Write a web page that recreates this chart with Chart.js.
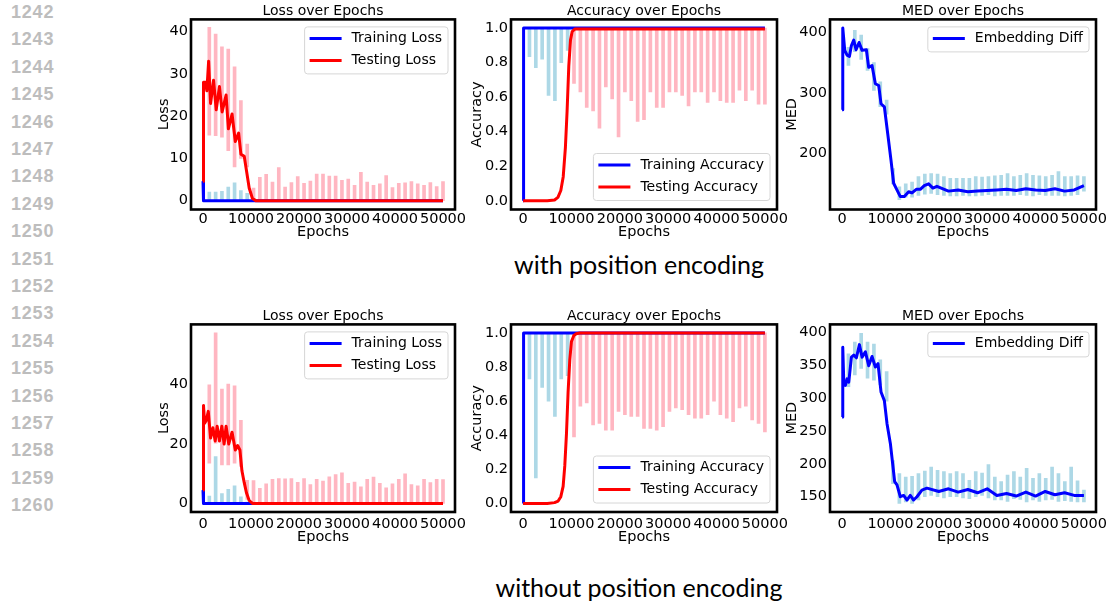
<!DOCTYPE html>
<html>
<head>
<meta charset="utf-8">
<title>Loss, Accuracy and MED over Epochs</title>
<script src="https://cdn.jsdelivr.net/npm/chart.js@4.4.1/dist/chart.umd.min.js"></script>
<style>
  body { margin: 0; width: 1108px; height: 606px; overflow: hidden; background: #fff; position: relative; }
  canvas { position: absolute; }
  .ln { position: absolute; left: 11px; font: bold 18px "Liberation Sans", Arial, sans-serif; line-height: 20px; color: #bdbdbd; letter-spacing: 0.8px; }
  .cap { position: absolute; left: 439px; width: 400px; text-align: center; font: 25px Lato, sans-serif; line-height: 28px; color: #000; }
</style>
</head>
<body>
<div id="nums"></div>
<canvas id="lossA"></canvas>
<canvas id="accA"></canvas>
<canvas id="medA"></canvas>
<canvas id="lossB"></canvas>
<canvas id="accB"></canvas>
<canvas id="medB"></canvas>
<div class="cap" style="top:250px">with position encoding</div>
<div class="cap" style="top:573px">without position encoding</div>
<script>
// Ticks shared by every panel
const xTicks = [0, 10000, 20000, 30000, 40000, 50000];
const lossTicksA = [0, 10, 20, 30, 40];
const lossTicksB = [0, 20, 40];
const accTicks = [0, 0.2, 0.4, 0.6, 0.8, 1.0];
const medTicksA = [200, 300, 400];
const medTicksB = [150, 200, 250, 300, 350, 400];

// Epochs where the raw curves spike (evaluation points)
const spikeEpochs = [1316, 2632, 3947, 5263, 6579, 7895, 9211, 10526, 11842, 13158, 14474, 15789, 17105,
  18421, 19737, 21053, 22368, 23684, 25000, 26316, 27632, 28947, 30263, 31579, 32895, 34211, 35526,
  36842, 38158, 39474, 40789, 42105, 43421, 44737, 46053, 47368, 48684, 50000];
const earlySpikes = spikeEpochs.slice(0, 7);
const lateSpikes = spikeEpochs.slice(7);

// ---- with position encoding ----
const trainLossEpA = [0, 100, 50000];
const trainLossA = [4.6, 0, 0];
const testLossEpA = [0, 100, 500, 800, 1170, 1580, 2200, 2750, 3430, 3980, 4810, 5290, 6050, 6730, 7420, 7900, 8590, 9070, 9620, 10300, 11000, 50000];
const testLossA = [4.6, 28, 28, 26, 33, 23, 28.5, 21.5, 27, 21, 25, 17, 20.5, 14, 16, 11, 10.5, 7, 3, 0.5, 0, 0];
const trainLossSpikeA = [2.0, 2.0, 2.2, 3.2, 4.2, 2.4, 1.7];
const testLossEarlyLoA = [15.5, 15.4, 15, 11.8, 8, 10, 8];
const testLossEarlyHiA = [41, 39.4, 36.4, 35.9, 31.7, 23.7, 13.4];
const testLossLateA = [3.0, 5.5, 6.2, 4.4, 7.8, 3.2, 4.3, 5.7, 4.1, 4.6, 6.3, 6.3, 5.8, 5.8, 4.8, 5.1, 3.6, 6.7, 4.4, 3.6, 4.0, 5.9, 3.1, 4.1, 4.2, 4.5, 4.0, 3.6, 4.3, 3.3, 4.5];

const trainAccEp = [0, 100, 50000];
const trainAcc = [0, 1, 1];
const testAccEpA = [0, 5000, 6500, 7200, 7800, 8300, 8750, 9100, 9450, 9800, 10150, 10700, 11400, 50000];
const testAccA = [0, 0, 0.005, 0.02, 0.06, 0.14, 0.31, 0.52, 0.78, 0.93, 0.98, 0.994, 0.995, 0.995];
const trainAccSpikeA = [0.835, 0.77, 0.82, 0.61, 0.58, 0.80, 0.87];
const testAccSpikeA = [0.68, 0.63, 0.54, 0.52, 0.42, 0.66, 0.59, 0.37, 0.63, 0.58, 0.46, 0.47, 0.63, 0.54, 0.54, 0.63, 0.63, 0.61, 0.55, 0.63, 0.63, 0.57, 0.63, 0.58, 0.57, 0.57, 0.64, 0.58, 0.64, 0.56, 0.56];

const medEpA = [0, 140, 550, 1030, 1510, 1930, 2410, 2890, 3510, 4130, 5020, 5500, 6190, 6880, 7570, 8050, 8740, 9430, 10110, 10660, 11210, 12040, 12870, 13760, 14450, 15340, 16170, 16990, 17890, 18780, 19610, 22000, 24000, 26000, 28000, 30000, 32000, 34000, 36000, 38000, 40000, 42000, 44000, 46000, 48000, 50000];
const medA = [272, 407, 370, 362, 360, 378, 387, 371, 383, 370, 371, 342, 345, 315, 312, 282, 277, 233, 189, 151, 142, 129, 129, 137, 135, 141, 141, 147, 150, 143, 146, 138, 140, 137, 138, 139, 140, 141, 139, 142, 140, 139, 142, 138, 140, 147];
const medSpikeLoA = [345, 368, 355, 337, 304, 277, 265, 150, 124, 128, 128, 131, 133, 134, 132, 131, 130, 130, 131, 130, 130, 131, 132, 130, 131, 131, 131, 132, 131, 130, 132, 131, 131, 131, 130, 131, 132, 138];
const medSpikeHiA = [375, 403, 395, 373, 350, 318, 288, 175, 145, 150, 153, 162, 166, 167, 166, 162, 159, 159, 159, 159, 162, 161, 162, 163, 164, 167, 162, 164, 167, 164, 163, 162, 164, 170, 162, 162, 163, 162];

// ---- without position encoding ----
const trainLossEpB = [0, 100, 50000];
const trainLossB = [4.5, 0, 0];
const testLossEpB = [0, 100, 340, 690, 1100, 1580, 2060, 2540, 2950, 3430, 3920, 4400, 4810, 5360, 6050, 6730, 7210, 7690, 8110, 8590, 9070, 9620, 10300, 11000, 50000];
const testLossB = [4.5, 33, 27, 28, 31, 22, 25.5, 21, 26, 21, 26, 20, 26, 20, 24, 18, 19.5, 18, 11, 7, 3.5, 1, 0, 0, 0];
const trainLossSpikeB = [2.5, 15.8, 3.3, 4.8, 5.9, 2.2, 0.5];
const testLossEarlyLoB = [13.6, 20.3, 13, 13, 13.6, 12.5, 1.4];
const testLossEarlyHiB = [39.9, 57.4, 38.5, 40.2, 39.6, 28, 7.8];
const testLossLateB = [7.7, 5.1, 6.6, 8.1, 8.4, 8.3, 8.4, 7.1, 8.4, 6.4, 8.1, 7.5, 9.0, 9.7, 10.3, 6.8, 7.2, 5.6, 8.1, 8.9, 6.8, 5.3, 6.6, 8.1, 10.0, 6.4, 5.9, 8.1, 7.0, 8.1, 8.0];

const testAccEpB = [0, 5000, 6500, 7250, 7800, 8280, 8620, 8970, 9300, 9650, 10000, 10500, 11000, 11700, 50000];
const testAccB = [0, 0, 0.005, 0.014, 0.04, 0.1, 0.22, 0.41, 0.65, 0.84, 0.95, 0.985, 0.995, 1.0, 1.0];
const trainAccSpikeB = [0.73, 0.15, 0.68, 0.60, 0.51, 0.73, 0.75];
const testAccSpikeB = [0.39, 0.57, 0.59, 0.46, 0.47, 0.43, 0.43, 0.54, 0.52, 0.51, 0.51, 0.44, 0.44, 0.43, 0.45, 0.54, 0.56, 0.55, 0.52, 0.50, 0.50, 0.52, 0.60, 0.52, 0.50, 0.48, 0.56, 0.57, 0.49, 0.47, 0.42];

const medEpB = [0, 140, 340, 690, 1030, 1380, 1930, 2410, 2960, 3580, 4130, 4820, 5500, 6190, 6880, 7430, 8050, 8740, 9290, 9980, 10460, 10870, 11350, 12040, 12730, 13420, 14100, 14790, 15480, 16510, 17540, 20000, 22000, 24000, 26000, 28000, 30000, 32000, 34000, 36000, 38000, 40000, 42000, 44000, 46000, 48000, 50000];
const medB = [271, 377, 327, 319, 329, 324, 362, 365, 361, 381, 362, 370, 349, 363, 347, 352, 309, 296, 261, 231, 200, 173, 168, 150, 152, 145, 152, 145, 150, 160, 163, 158, 162, 157, 161, 156, 162, 152, 155, 151, 157, 151, 158, 153, 156, 152, 152];
const medSpikeLoB = [317, 335, 345, 330, 327, 320, 295, 170, 140, 142, 140, 145, 150, 152, 150, 148, 150, 150, 148, 147, 150, 152, 148, 145, 145, 143, 147, 146, 142, 145, 143, 145, 146, 143, 144, 143, 142, 142];
const medSpikeHiB = [367, 385, 398, 385, 382, 358, 340, 205, 185, 180, 181, 185, 189, 195, 190, 188, 185, 188, 185, 175, 188, 186, 199, 180, 173, 183, 188, 180, 193, 178, 185, 178, 195, 185, 173, 195, 174, 160];

const BLUE = '#0000ff', RED = '#ff0000', LIGHTBLUE = '#add8e6', PINK = '#ffb6c1';

// Line numbers down the left margin
const nums = document.getElementById('nums');
for (let i = 0; i < 19; i++) {
  const d = document.createElement('div');
  d.className = 'ln';
  d.style.top = (2 + i * 27.4) + 'px';
  d.textContent = 1242 + i;
  nums.appendChild(d);
}

Chart.defaults.font.family = '"DejaVu Sans", sans-serif';
Chart.defaults.color = '#000';

// Black box round the plot area
const framePlugin = {
  id: 'frame',
  afterDatasetsDraw(chart) {
    const { ctx, chartArea: a } = chart;
    ctx.save();
    ctx.lineWidth = 2.6;
    ctx.strokeStyle = '#000';
    ctx.strokeRect(a.left, a.top, a.right - a.left, a.bottom - a.top);
    ctx.restore();
  }
};

// Legend drawn inside the plot area, like matplotlib's
const boxLegend = {
  id: 'boxLegend',
  afterDraw(chart, args, opts) {
    const { ctx, chartArea: a } = chart;
    const items = chart.data.datasets.filter(d => d.showInLegend);
    ctx.save();
    ctx.font = '14px "DejaVu Sans"';
    const tw = Math.max(...items.map(d => ctx.measureText(d.label).width));
    const w = 47 + tw + 6, h = 22 * items.length + 3;
    const x = a.right - 7 - w;
    const y = opts.corner === 'bottom' ? a.bottom - 9 - h : a.top + 7.5;
    ctx.fillStyle = 'rgba(255,255,255,0.8)';
    ctx.strokeStyle = '#d6d6d6';
    ctx.lineWidth = 1;
    ctx.beginPath();
    ctx.roundRect(x, y, w, h, 3);
    ctx.fill();
    ctx.stroke();
    items.forEach((d, i) => {
      const cy = y + 11.5 + 22 * i;
      ctx.strokeStyle = d.borderColor;
      ctx.lineWidth = 3;
      ctx.beginPath();
      ctx.moveTo(x + 5, cy);
      ctx.lineTo(x + 37, cy);
      ctx.stroke();
      ctx.fillStyle = '#000';
      ctx.textBaseline = 'middle';
      ctx.fillText(d.label, x + 47, cy);
    });
    ctx.restore();
  }
};

const line = (label, xs, ys, color, order) => ({
  type: 'line', label, data: xs.map((x, i) => ({ x, y: ys[i] })),
  borderColor: color, backgroundColor: color, borderWidth: 3, pointRadius: 0,
  tension: 0, fill: false, borderJoinStyle: 'round', order, showInLegend: true
});
const pick = (v, i) => Array.isArray(v) ? v[i] : v;
const spikes = (xs, lo, hi, color, width, order) => ({
  type: 'bar', data: xs.map((x, i) => ({ x, y: [pick(lo, i), pick(hi, i)] })),
  backgroundColor: color, barThickness: width, grouped: false, borderWidth: 0, order
});

// Panel geometry: rows and columns of the grid
const rows = [
  { top: 0, h: 242, hx: 32.5, tickPad: 1.1, titlePad: 1 },
  { top: 305, h: 243, hx: 36, tickPad: 3.6, titlePad: 2 }
];
const cols = [
  { left: 145, wy: 46, fw: 264, yPad: 10.8 },
  { left: 465, wy: 46, fw: 266, yPad: 3.3 },
  { left: 780, wy: 50, fw: 266, yPad: 3.8 }
];

function drawPanel(id, row, col, p) {
  const cv = document.getElementById(id);
  const r = rows[row], c = cols[col];
  cv.width = c.wy + c.fw + 30;
  cv.height = r.h;
  cv.style.left = c.left + 'px';
  cv.style.top = r.top + 'px';
  new Chart(cv, {
    type: 'line',
    data: { datasets: p.datasets },
    options: {
      responsive: false,
      animation: false,
      events: [],
      layout: { padding: { left: 0, right: 30, top: 0, bottom: 0 } },
      plugins: {
        legend: { display: false },
        tooltip: { enabled: false },
        title: {
          display: true, text: p.title, fullSize: false, color: '#000',
          font: { size: 14, weight: 'normal', lineHeight: 1.1 }, padding: { top: 3.5, bottom: 0.5 }
        },
        boxLegend: { corner: p.corner }
      },
      scales: {
        x: {
          type: 'linear', min: -2500, max: 52500, offset: false,
          grid: { display: false, drawTicks: false }, border: { display: false },
          ticks: { font: { size: 14.5 }, padding: r.tickPad - 0.3, maxRotation: 0, autoSkip: false, callback: v => String(v) },
          afterBuildTicks: s => { s.ticks = xTicks.map(v => ({ value: v })); },
          afterFit: s => { s.height = r.hx; },
          title: { display: true, text: 'Epochs', font: { size: 14.5 }, padding: { top: 0, bottom: r.titlePad } }
        },
        y: {
          type: 'linear', min: p.yMin, max: p.yMax,
          grid: { display: false, drawTicks: false }, border: { display: false },
          ticks: { font: { size: 14.5 }, padding: 3, callback: p.fmt || (v => String(v)) },
          afterBuildTicks: s => { s.ticks = p.yTicks.map(v => ({ value: v })); },
          afterFit: s => { s.width = c.wy; },
          title: { display: true, text: p.yTitle, font: { size: 14.5 }, padding: { top: c.yPad, bottom: 0 } }
        }
      }
    },
    plugins: [framePlugin, boxLegend]
  });
}

const accFmt = v => v.toFixed(1);

drawPanel('lossA', 0, 0, {
  title: 'Loss over Epochs', yTitle: 'Loss', yMin: -2.1, yMax: 42.9, yTicks: lossTicksA, corner: 'top',
  datasets: [
    line('Training Loss', trainLossEpA, trainLossA, BLUE, 2),
    line('Testing Loss', testLossEpA, testLossA, RED, 1),
    spikes(earlySpikes, 0, trainLossSpikeA, LIGHTBLUE, 3, 6),
    spikes(earlySpikes, testLossEarlyLoA, testLossEarlyHiA, PINK, 3, 5),
    spikes(lateSpikes, 0, testLossLateA, PINK, 3, 5)
  ]
});

drawPanel('accA', 0, 1, {
  title: 'Accuracy over Epochs', yTitle: 'Accuracy', yMin: -0.05, yMax: 1.05, yTicks: accTicks, fmt: accFmt, corner: 'bottom',
  datasets: [
    line('Training Accuracy', trainAccEp, trainAcc, BLUE, 2),
    line('Testing Accuracy', testAccEpA, testAccA, RED, 1),
    spikes(earlySpikes, trainAccSpikeA, 1, LIGHTBLUE, 3, 6),
    spikes(lateSpikes, testAccSpikeA, 1, PINK, 3, 5)
  ]
});

drawPanel('medA', 0, 2, {
  title: 'MED over Epochs', yTitle: 'MED', yMin: 107.7, yMax: 421, yTicks: medTicksA, corner: 'top',
  datasets: [
    line('Embedding Diff', medEpA, medA, BLUE, 1),
    spikes(spikeEpochs, medSpikeLoA, medSpikeHiA, LIGHTBLUE, 3, 5)
  ]
});

drawPanel('lossB', 1, 0, {
  title: 'Loss over Epochs', yTitle: 'Loss', yMin: -2.87, yMax: 60.27, yTicks: lossTicksB, corner: 'top',
  datasets: [
    line('Training Loss', trainLossEpB, trainLossB, BLUE, 2),
    line('Testing Loss', testLossEpB, testLossB, RED, 1),
    spikes(earlySpikes, 0, trainLossSpikeB, LIGHTBLUE, 3, 6),
    spikes(earlySpikes, testLossEarlyLoB, testLossEarlyHiB, PINK, 3, 5),
    spikes(lateSpikes, 0, testLossLateB, PINK, 3, 5)
  ]
});

drawPanel('accB', 1, 1, {
  title: 'Accuracy over Epochs', yTitle: 'Accuracy', yMin: -0.05, yMax: 1.05, yTicks: accTicks, fmt: accFmt, corner: 'bottom',
  datasets: [
    line('Training Accuracy', trainAccEp, trainAcc, BLUE, 2),
    line('Testing Accuracy', testAccEpB, testAccB, RED, 1),
    spikes(earlySpikes, trainAccSpikeB, 1, LIGHTBLUE, 3, 6),
    spikes(lateSpikes, testAccSpikeB, 1, PINK, 3, 5)
  ]
});

drawPanel('medB', 1, 2, {
  title: 'MED over Epochs', yTitle: 'MED', yMin: 126.8, yMax: 411.7, yTicks: medTicksB, corner: 'top',
  datasets: [
    line('Embedding Diff', medEpB, medB, BLUE, 1),
    spikes(spikeEpochs, medSpikeLoB, medSpikeHiB, LIGHTBLUE, 3, 5)
  ]
});
</script>
</body>
</html>
